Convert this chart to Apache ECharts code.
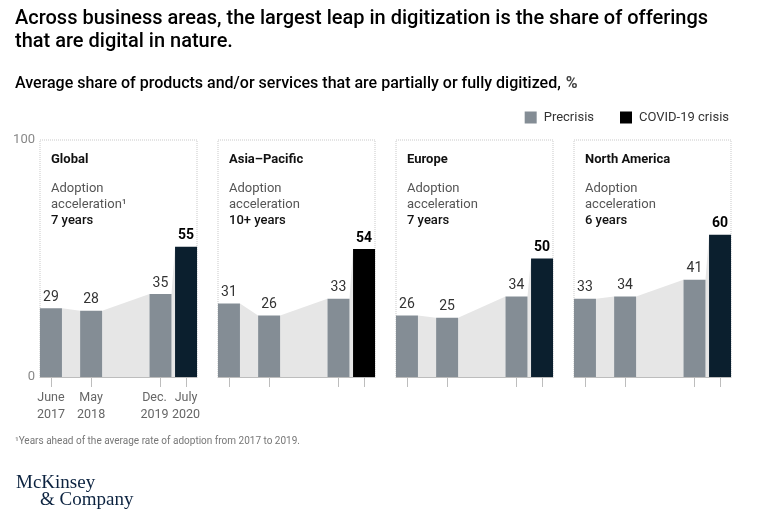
<!DOCTYPE html>
<html>
<head>
<meta charset="utf-8">
<script src="https://cdn.jsdelivr.net/npm/echarts@6/dist/echarts.min.js"></script>
<style>
  html, body { margin: 0; padding: 0; background: #fff; }
  #main { width: 760px; height: 525px; }
</style>
</head>
<body>
<div id="main"></div>
<script>
var regions = ['Global', 'Asia–Pacific', 'Europe', 'North America'];
var acceleration = ['7 years', '10+ years', '7 years', '6 years'];
var periods = ['June\n2017', 'May\n2018', 'Dec.\n2019', 'July\n2020'];
// months since June 2017, for each survey wave
var periodMonths = [0, 11, 30, 37];

var precrisisGlobal = [29, 28, 35];
var precrisisAsiaPacific = [31, 26, 33];
var precrisisEurope = [26, 25, 34];
var precrisisNorthAmerica = [33, 34, 41];
var covidCrisis = [55, 54, 50, 60];

var yTicks = [0, 100];

var precrisis = [precrisisGlobal, precrisisAsiaPacific, precrisisEurope, precrisisNorthAmerica];

var font = 'Roboto';
var gridLefts = [40, 218, 396, 574];
var panelWidth = 157;
var halfBar = 11;
var grayColor = '#848d95';
var covidColors = ['#0b1f2e', '#000000', '#0b1f2e', '#0b1f2e'];

var myChart = echarts.init(document.getElementById('main'));

var grids = [], xAxes = [], yAxes = [], series = [], graphics = [];

// Dec. 2019 label sits a little left of its tick, as in the original
function periodLabel(v) {
    var k = periodMonths.indexOf(v);
    var lines = periods[k].split('\n');
    var tag = k === 2 ? 'l' : 'c';
    return lines.map(function (s) { return '{' + tag + '|' + s + '}'; }).join('\n');
}

var labelStyle = {
    margin: 12, hideOverlap: false, showMinLabel: true, showMaxLabel: true,
    color: '#666', fontSize: 12.5, lineHeight: 17, fontFamily: font,
    formatter: periodLabel,
    rich: {
        c: { color: '#666', fontSize: 12.5, lineHeight: 17, fontFamily: font },
        l: { color: '#666', fontSize: 12.5, lineHeight: 17, fontFamily: font, padding: [0, 12, 0, 0] }
    }
};

regions.forEach(function (name, i) {
    var values = precrisis[i].concat([covidCrisis[i]]);

    grids.push({
        left: gridLefts[i], top: 140, width: panelWidth, bottom: 148,
        show: true, borderColor: '#c9c9c9', borderWidth: 1, borderType: 'dotted',
        backgroundColor: 'transparent'
    });

    xAxes.push({
        gridIndex: i, type: 'value', position: 'bottom', min: -3, max: 40,
        axisLine: { lineStyle: { color: '#bdbdbd', width: 1 } },
        axisTick: { show: true, customValues: periodMonths, length: 10, lineStyle: { color: '#bdbdbd' } },
        axisLabel: echarts.util.extend({ show: i === 0, customValues: periodMonths.slice(0, 3) }, labelStyle),
        splitLine: { show: false }
    });

    yAxes.push({
        gridIndex: i, type: 'value', min: yTicks[0], max: yTicks[1], interval: 100,
        axisLine: { show: false }, axisTick: { show: false }, splitLine: { show: false },
        axisLabel: { show: i === 0, color: '#888', fontSize: 13, margin: 5, fontFamily: font }
    });

    // light gray area joining the bar tops
    var segments = [];
    for (var k = 0; k < values.length - 1; k++) {
        segments.push([periodMonths[k], values[k], periodMonths[k + 1], values[k + 1]]);
    }
    series.push({
        type: 'custom', xAxisIndex: i, yAxisIndex: i, z: 1, silent: true,
        encode: { x: [0, 2], y: [1, 3] },
        data: segments,
        renderItem: function (params, api) {
            var p0 = api.coord([api.value(0), api.value(1)]);
            var p1 = api.coord([api.value(2), api.value(3)]);
            var b0 = api.coord([api.value(0), 0]);
            var b1 = api.coord([api.value(2), 0]);
            return {
                type: 'polygon',
                shape: { points: [
                    [p0[0] + halfBar, p0[1]], [p1[0] - halfBar, p1[1]],
                    [b1[0] - halfBar, b1[1]], [b0[0] + halfBar, b0[1]]
                ] },
                style: { fill: '#e6e6e6' }
            };
        }
    });

    series.push({
        name: 'Precrisis', type: 'bar', xAxisIndex: i, yAxisIndex: i, z: 2,
        barWidth: 22, barGap: '-100%',
        itemStyle: { color: grayColor },
        label: { show: true, position: 'top', distance: 4, fontSize: 14, color: '#333', fontFamily: font,
            formatter: function (p) { return p.value[1]; } },
        data: precrisis[i].map(function (v, k) { return [periodMonths[k], v]; })
    });

    series.push({
        name: 'COVID-19 crisis', type: 'bar', xAxisIndex: i, yAxisIndex: i, z: 2,
        barWidth: 22, barGap: '-100%',
        itemStyle: { color: covidColors[i] },
        label: { show: true, position: 'top', distance: 4, fontSize: 14, fontWeight: 'bold', color: '#000', fontFamily: font,
            formatter: function (p) { return p.value[1]; } },
        data: [[periodMonths[3], covidCrisis[i]]]
    });

    graphics.push({
        type: 'text', left: gridLefts[i] + 11, top: 153,
        style: { text: name, font: 'bold 13px ' + font, fill: '#111' }
    });
    graphics.push({
        type: 'text', left: gridLefts[i] + 11, top: 182,
        style: {
            text: '{g|Adoption}\n{g|acceleration' + (i === 0 ? '¹' : '') + '}\n{b|' + acceleration[i] + '}',
            rich: {
                g: { fontSize: 13, fontFamily: font, fill: '#555', lineHeight: 16 },
                b: { fontSize: 13, fontFamily: font, fontWeight: 500, fill: '#111', lineHeight: 16 }
            }
        }
    });
});

// separate label-only axis for the last period so it is not hidden by overlap
xAxes.push({
    gridIndex: 0, type: 'value', position: 'bottom', offset: 0, min: -3, max: 40,
    axisLine: { show: false }, axisTick: { show: false }, splitLine: { show: false },
    axisLabel: echarts.util.extend({ show: true, customValues: periodMonths.slice(3) }, labelStyle)
});

graphics.push({
    type: 'text', left: 15, top: 436,
    style: { text: '¹Years ahead of the average rate of adoption from 2017 to 2019.', font: '10px ' + font, fill: '#777' }
});
graphics.push({
    type: 'text', left: 16, top: 474,
    style: { text: 'McKinsey', font: '19px "Liberation Serif"', fill: '#0c2340' }
});
graphics.push({
    type: 'text', left: 40, top: 491,
    style: { text: '& Company', font: '19px "Liberation Serif"', fill: '#0c2340' }
});

var option = {
    animation: false,
    title: [
        {
            text: 'Across business areas, the largest leap in digitization is the share of offerings\nthat are digital in nature.',
            left: 15, top: 7, padding: 0,
            textStyle: { fontFamily: font, fontSize: 20, fontWeight: 500, color: '#000', lineHeight: 23 }
        },
        {
            text: '{b|Average share of products and/or services that are partially or fully digitized,} {n|%}',
            left: 15, top: 75, padding: 0,
            textStyle: {
                rich: {
                    b: { fontFamily: font, fontSize: 16, fontWeight: 500, color: '#000' },
                    n: { fontFamily: font, fontSize: 16, color: '#444' }
                }
            }
        }
    ],
    legend: {
        right: 26, top: 106, itemWidth: 12, itemHeight: 12, itemGap: 26, icon: 'rect',
        textStyle: { fontFamily: font, fontSize: 13, color: '#333', padding: [0, 0, 0, 2] },
        data: [
            { name: 'Precrisis', itemStyle: { color: grayColor } },
            { name: 'COVID-19 crisis', itemStyle: { color: '#000' } }
        ]
    },
    grid: grids,
    xAxis: xAxes,
    yAxis: yAxes,
    series: series,
    graphic: graphics
};

myChart.setOption(option);
</script>
</body>
</html>
